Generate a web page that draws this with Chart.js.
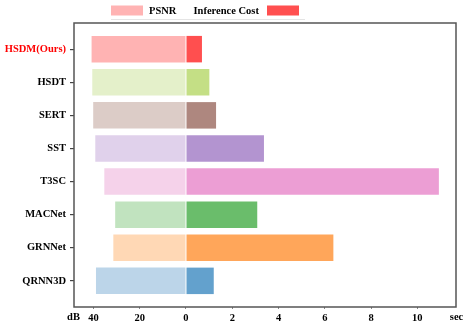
<!DOCTYPE html>
<html><head><meta charset="utf-8">
<script src="https://cdn.jsdelivr.net/npm/chart.js@4/dist/chart.umd.min.js"></script>
<style>html,body{margin:0;padding:0;background:#fff}#wrap{width:471px;height:328px}</style>
</head><body><div id="wrap"><canvas id="c" width="471" height="328"></canvas></div>
<script>
const categories = ['HSDM(Ours)', 'HSDT', 'SERT', 'SST', 'T3SC', 'MACNet', 'GRNNet', 'QRNN3D'];
const psnrDb = [40.8, 40.5, 40.1, 39.2, 35.3, 30.6, 31.4, 38.9];
const inferenceSec = [0.69, 1.01, 1.30, 3.37, 10.93, 3.08, 6.37, 1.20];
const lightColors = ['#FFB3B3', '#E4F0CA', '#DCCCC7', '#E0D1EB', '#F5D2EA', '#C1E3BF', '#FFD8B5', '#BCD5E9'];
const darkColors  = ['#FF4F4F', '#C4DF85', '#AE877F', '#B394D0', '#EC9ED4', '#6ABD6B', '#FFA65A', '#63A1CD'];
const xTickValues = [-4, -2, 0, 2, 4, 6, 8, 10];
const legendLabels = ['PSNR', 'Inference Cost'];
const axisUnits = ['dB', 'sec'];
const dbPerUnit = 10;

const FONT = 'bold 10.5px "Liberation Serif", "Times New Roman", serif';

const extras = {
  id: 'extras',
  afterDraw(chart) {
    const ctx = chart.ctx, a = chart.chartArea;
    ctx.save();
    // frame
    ctx.strokeStyle = '#555';
    ctx.lineWidth = 1.5;
    ctx.strokeRect(a.left, a.top, a.right - a.left, a.bottom - a.top);
    // unit labels
    ctx.font = FONT;
    ctx.fillStyle = '#000';
    ctx.textAlign = 'center';
    ctx.textBaseline = 'middle';
    ctx.fillText(axisUnits[0], a.left - 0.5, 317.5);
    ctx.fillText(axisUnits[1], a.right + 0.5, 317.5);
    // legend
    ctx.fillStyle = lightColors[0];
    ctx.fillRect(111, 5.5, 32, 10);
    ctx.fillStyle = '#000';
    ctx.textAlign = 'left';
    ctx.fillText(legendLabels[0], 149, 11);
    ctx.fillText(legendLabels[1], 193.5, 11);
    ctx.fillStyle = darkColors[0];
    ctx.fillRect(267, 5.5, 32, 10);
    ctx.strokeStyle = '#e4e4e4';
    ctx.lineWidth = 1;
    ctx.beginPath();
    ctx.moveTo(111, 19.5); ctx.lineTo(305, 19.5);
    ctx.stroke();
    ctx.restore();
  }
};

new Chart(document.getElementById('c'), {
  type: 'bar',
  data: {
    datasets: [
      {
        label: legendLabels[0],
        data: psnrDb.map((v, i) => ({ x: -v / dbPerUnit, y: i })),
        backgroundColor: lightColors,
        grouped: false
      },
      {
        label: legendLabels[1],
        data: inferenceSec.map((v, i) => ({ x: v, y: i })),
        backgroundColor: darkColors,
        grouped: false
      }
    ]
  },
  options: {
    indexAxis: 'y',
    responsive: false,
    animation: false,
    layout: { padding: { left: 0, right: 15, top: 23, bottom: 0 } },
    datasets: { bar: { categoryPercentage: 1, barPercentage: 0.8, borderWidth: 0 } },
    plugins: { legend: { display: false }, tooltip: { enabled: false } },
    scales: {
      x: {
        type: 'linear',
        offset: false,
        min: -4.84,
        max: 11.67,
        afterBuildTicks: s => { s.ticks = xTickValues.map(v => ({ value: v })); },
        afterFit: s => { s.height = 21; },
        grid: { offset: false, drawOnChartArea: false, drawTicks: true, tickLength: 2, color: '#888' },
        border: { display: false },
        ticks: {
          padding: 3,
          color: '#000',
          font: { family: '"Liberation Serif", "Times New Roman", serif', size: 10.5, weight: 'bold' },
          callback: v => (v < 0 ? -v * dbPerUnit : v),
          maxRotation: 0
        }
      },
      y: {
        type: 'linear',
        offset: false,
        reverse: true,
        min: -0.79,
        max: 7.79,
        afterBuildTicks: s => { s.ticks = categories.map((_, i) => ({ value: i })); },
        afterFit: s => { s.width = 74; },
        grid: { offset: false, drawOnChartArea: false, drawTicks: true, tickLength: 4, color: '#444', lineWidth: 1.2 },
        border: { display: false },
        ticks: {
          padding: 4,
          color: c => (c.index === 0 ? '#FF0000' : '#000'),
          font: { family: '"Liberation Serif", "Times New Roman", serif', size: 10.5, weight: 'bold' },
          callback: v => categories[v]
        }
      }
    }
  },
  plugins: [extras]
});
</script></body></html>
